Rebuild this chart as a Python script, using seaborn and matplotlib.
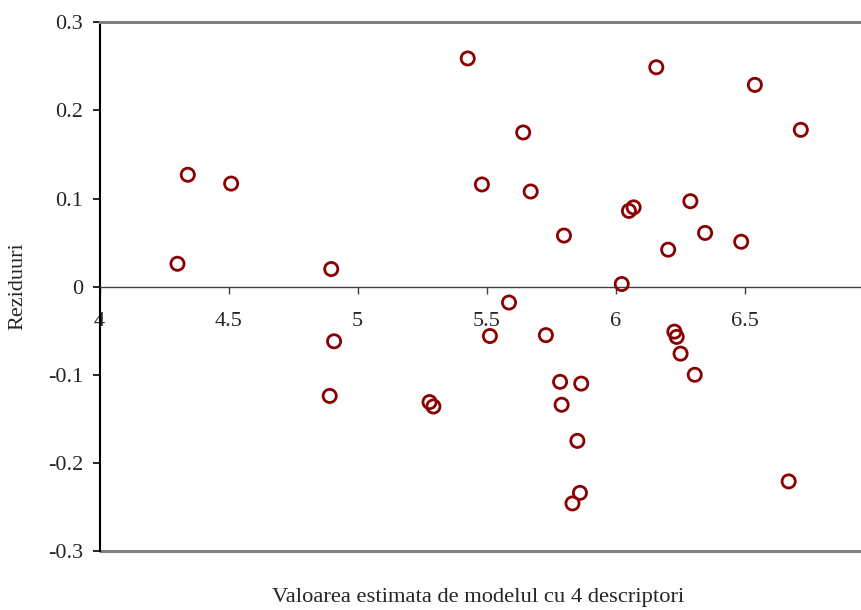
import matplotlib
matplotlib.use("Agg")
import matplotlib.pyplot as plt
import seaborn as sns
import pandas as pd

# Estimated values from the 4-descriptor model and their residuals
estimated = [4.302, 4.342, 4.510, 4.898, 4.909, 4.892, 5.279, 5.294, 5.427, 5.482,
             5.513, 5.587, 5.642, 5.671, 5.730, 5.800, 5.785, 5.791, 5.867, 5.852,
             5.862, 5.833, 6.024, 6.052, 6.070, 6.158, 6.204, 6.228, 6.237, 6.252,
             6.290, 6.307, 6.347, 6.487, 6.540, 6.671, 6.718]
residuals = [0.026, 0.127, 0.117, 0.020, -0.062, -0.124, -0.131, -0.136, 0.259, 0.116,
             -0.056, -0.018, 0.175, 0.108, -0.055, 0.058, -0.108, -0.134, -0.110, -0.175,
             -0.234, -0.246, 0.003, 0.086, 0.090, 0.249, 0.042, -0.051, -0.057, -0.076,
             0.097, -0.100, 0.061, 0.051, 0.229, -0.221, 0.178]

x_ticks = [4, 4.5, 5, 5.5, 6, 6.5]
x_tick_labels = ["4", "4.5", "5", "5.5", "6", "6.5"]
y_ticks = [-0.3, -0.2, -0.1, 0, 0.1, 0.2, 0.3]
y_tick_labels = ["-0.3", "-0.2", "-0.1", "0", "0.1", "0.2", "0.3"]

x_label = "Valoarea estimata de modelul cu 4 descriptori"
y_label = "Reziduuri"

df = pd.DataFrame({"estimat": estimated, "rezidual": residuals})

sns.set_style("white")
plt.rcParams["font.family"] = ["Liberation Serif", "DejaVu Serif"]

fig = plt.figure(figsize=(8.62, 6.10), dpi=100)
ax = fig.add_axes([0.1155, 0.0967, 0.8979, 0.8667])

sns.scatterplot(data=df, x="estimat", y="rezidual", ax=ax,
                marker="o", s=90, facecolor="none", edgecolor="#8B0000",
                linewidth=2.0, zorder=3, legend=False)

ax.set_xlim(4, 7)
ax.set_ylim(-0.3, 0.3)

# Horizontal axis crossing at zero
ax.spines["bottom"].set_position(("data", 0))
ax.spines["bottom"].set_color("#404040")
ax.spines["bottom"].set_linewidth(1.0)
ax.spines["left"].set_color("black")
ax.spines["left"].set_linewidth(1.5)
ax.spines["top"].set_color("#808080")
ax.spines["top"].set_linewidth(2.2)
ax.spines["right"].set_color("#808080")
ax.spines["right"].set_linewidth(2.2)
ax.axhline(-0.3, color="#808080", lw=2.2, clip_on=False, zorder=1)

ax.set_xticks(x_ticks)
ax.set_xticklabels(x_tick_labels)
ax.set_yticks(y_ticks)
ax.set_yticklabels(y_tick_labels)

ax.tick_params(axis="x", direction="out", length=5, width=1.0, color="#404040",
               pad=13, labelsize=16, bottom=True)
ax.tick_params(axis="y", direction="out", length=5, width=1.2, color="black",
               pad=7, labelsize=16, left=True)

ax.set_xlabel(x_label, fontsize=16.2)
ax.set_ylabel(y_label, fontsize=16)
ax.xaxis.set_label_coords(0.489, -0.087)
ax.xaxis.label.set_va("center")
ax.yaxis.set_label_coords(-0.1054, 0.501)
ax.yaxis.label.set_va("center")

ax.grid(False)
fig.savefig("out.png", dpi=100)
